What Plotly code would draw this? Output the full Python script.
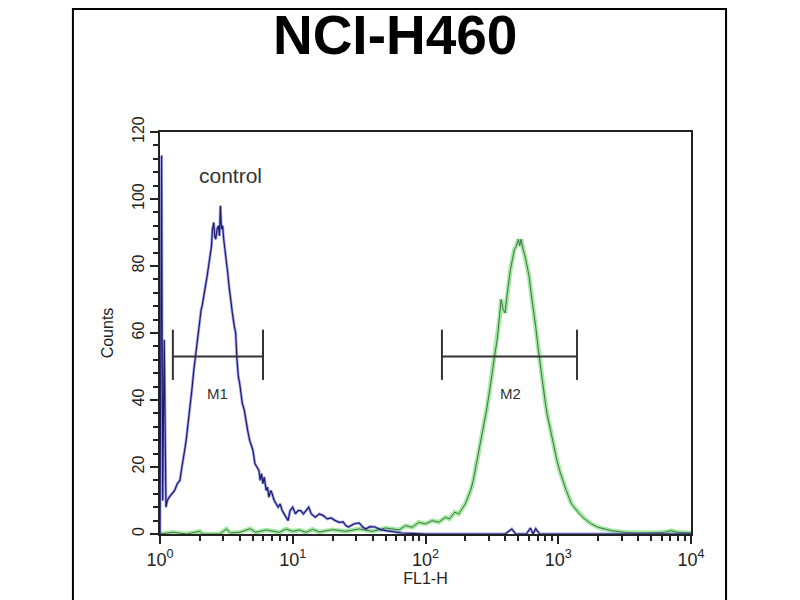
import math
import plotly.graph_objects as go

# control histogram (log10 FL1-H position, counts)
ctrl_log = [0.0, 0.012, 0.02, 0.032, 0.045, 0.055, 0.07, 0.09, 0.11, 0.13, 0.15, 0.165,
            0.18, 0.19, 0.2, 0.213, 0.225, 0.24, 0.255, 0.266, 0.278, 0.29, 0.3, 0.31,
            0.317, 0.33, 0.342, 0.355, 0.366, 0.378, 0.388, 0.395, 0.405, 0.412, 0.42,
            0.43, 0.44, 0.448, 0.455, 0.463, 0.472, 0.48, 0.49, 0.5, 0.51, 0.52, 0.53,
            0.545, 0.56, 0.57, 0.58, 0.59, 0.6, 0.61, 0.62, 0.635, 0.65, 0.66, 0.675,
            0.69, 0.7, 0.715, 0.73, 0.745, 0.755, 0.765, 0.775, 0.785, 0.8, 0.81, 0.82,
            0.835, 0.845, 0.86, 0.875, 0.89, 0.905, 0.92, 0.935, 0.95, 0.965, 0.98, 1.0,
            1.02, 1.04, 1.06, 1.08, 1.1, 1.12, 1.14, 1.17, 1.2, 1.23, 1.26, 1.29, 1.32,
            1.35, 1.38, 1.4, 1.42, 1.46, 1.5, 1.53, 1.55, 1.58, 1.62, 1.66, 1.7, 1.74,
            1.77, 1.82, 1.9, 2.0, 2.3, 2.6, 2.65, 2.68, 2.76, 2.79, 2.81, 2.83, 2.86,
            3.0, 4.0]
ctrl_counts = [0, 113, 10, 58, 8, 10, 11, 12, 13, 15, 16, 20,
               23, 26, 29, 33, 37, 43, 49, 53, 57, 61, 64, 67,
               68, 71, 73, 77, 80, 83, 86, 91, 93, 89, 88,
               91, 92, 89, 98, 91, 92, 88, 85, 82, 78, 74, 70,
               66, 62, 60, 52, 47, 45, 41, 39, 37, 33, 31, 28,
               26, 25, 21, 20, 19, 16, 18, 15, 17, 13, 14, 11,
               13, 12, 10, 9, 8, 9, 7, 6, 5, 4, 7, 8,
               6, 7, 7, 6, 7, 8, 6, 5, 6, 5.5, 4.5, 4.8, 4,
               3.5, 3.6, 2.5, 2.1, 3, 3.3, 2, 1.5, 2.2, 2.1, 1.3, 1, 0.8,
               0.6, 0.3, 0.2, 0, 0, 0, 1.5, 0, 0, 1.8, 0, 1.6, 0,
               0, 0]

# stained sample histogram
samp_log = [0.0, 0.1, 0.2, 0.3, 0.32, 0.45, 0.5, 0.53, 0.6, 0.68, 0.72, 0.8, 0.9,
            0.95, 1.0, 1.05, 1.1, 1.15, 1.2, 1.3, 1.4, 1.5, 1.6, 1.7, 1.8, 1.85,
            1.9, 1.95, 2.0, 2.05, 2.1, 2.15, 2.18, 2.22, 2.25, 2.28, 2.3, 2.32,
            2.34, 2.36, 2.38, 2.4, 2.42, 2.44, 2.46, 2.48, 2.5, 2.52, 2.54, 2.56,
            2.57, 2.585, 2.6, 2.61, 2.625, 2.64, 2.655, 2.67, 2.685, 2.7, 2.71,
            2.72, 2.735, 2.75, 2.765, 2.78, 2.795, 2.81, 2.83, 2.85, 2.865, 2.88,
            2.9, 2.915, 2.93, 2.95, 2.97, 2.99, 3.01, 3.04, 3.06, 3.08, 3.1, 3.12,
            3.14, 3.17, 3.2, 3.25, 3.3, 3.35, 3.4, 3.5, 3.6, 3.7, 3.8, 3.85, 3.9, 4.0]
samp_counts = [0, 0.5, 0, 0.8, 0, 0, 1.5, 0.3, 0.5, 1.6, 0.5, 1.2, 0.5,
               1.5, 0.8, 1.2, 0.5, 1.4, 0.6, 1.3, 0.8, 1.5, 0.8, 1.8, 1.2, 2.5,
               2, 3.5, 3, 4, 3.5, 5, 4.5, 6.5, 6, 8, 9, 11,
               13, 16, 20, 24, 28, 32, 37, 42, 48, 53, 58, 65,
               70, 67, 66, 70, 75, 79, 82, 85, 86, 88, 86,
               88, 85, 83, 80, 77, 72, 68, 62, 55, 50, 46,
               40, 36, 33, 30, 26, 22, 19, 15, 13, 11, 9, 8,
               7, 5.5, 4.5, 3, 2, 1.5, 1, 0.5, 0.3, 0.4, 0.5, 1, 0.5, 0.3]

# marker gates (FL1-H values)
gate_names = ["M1", "M2"]
gate_lo = [1.25, 133]
gate_hi = [5.97, 1385]
gate_y = [53, 53]
gate_label_x = [2.69, 434]
gate_label_y = [42, 42]

decades = [1, 10, 100, 1000, 10000]
decade_text = ["10<sup>0</sup>", "10<sup>1</sup>", "10<sup>2</sup>", "10<sup>3</sup>", "10<sup>4</sup>"]

FONT = "Liberation Sans, Arial, sans-serif"

fig = go.Figure()

ctrl_x = [10 ** v for v in ctrl_log]
samp_x = [10 ** v for v in samp_log]

fig.add_trace(go.Scatter(x=samp_x, y=samp_counts, mode="lines",
                         line=dict(color="rgba(120,228,120,0.7)", width=4.5), hoverinfo="skip"))
fig.add_trace(go.Scatter(x=samp_x, y=samp_counts, mode="lines",
                         line=dict(color="#4c6a4c", width=1)))
fig.add_trace(go.Scatter(x=ctrl_x, y=ctrl_counts, mode="lines",
                         line=dict(color="rgba(90,90,220,0.55)", width=2.8), hoverinfo="skip"))
fig.add_trace(go.Scatter(x=ctrl_x, y=ctrl_counts, mode="lines",
                         line=dict(color="#1c1c6c", width=1.2)))

for lo, hi, y in zip(gate_lo, gate_hi, gate_y):
    fig.add_trace(go.Scatter(x=[lo, hi], y=[y, y], mode="lines",
                             line=dict(color="#333333", width=2)))
    for xe in (lo, hi):
        fig.add_trace(go.Scatter(x=[xe, xe], y=[y - 7, y + 8], mode="lines",
                                 line=dict(color="#333333", width=2)))

# annotations on a log axis take log10 positions
for name, lx, ly in zip(gate_names, gate_label_x, gate_label_y):
    fig.add_annotation(x=math.log10(lx), y=ly, text=name, showarrow=False, xref="x", yref="y",
                       font=dict(family=FONT, size=15, color="#333333"))

fig.add_annotation(x=math.log10(3.37), y=107, text="control", showarrow=False, xref="x", yref="y",
                   font=dict(family=FONT, size=21, color="#333333"))

# outer frame of the picture
fig.add_shape(type="rect", xref="paper", yref="paper", x0=-0.164, x1=1.066, y0=-0.2, y1=1.306,
              line=dict(color="black", width=2))

fig.update_layout(
    width=800, height=600,
    margin=dict(l=152, r=117, t=124, b=74),
    paper_bgcolor="white", plot_bgcolor="white",
    showlegend=False,
    title=dict(text="<b>NCI-H460</b>", x=0.484, xanchor="center", y=0.955, yanchor="middle",
               font=dict(family=FONT, size=55, color="black")),
    font=dict(family=FONT, color="#222222"),
)

fig.update_xaxes(
    type="log", range=[0, 4],
    tickmode="array", tickvals=decades, ticktext=decade_text,
    ticks="outside", ticklen=8, tickwidth=2, tickcolor="#222222",
    minor=dict(ticks="outside", ticklen=5, tickwidth=1.5, tickcolor="#222222",
               tickvals=[m * d for d in decades[:-1] for m in range(2, 10)]),
    showline=True, linecolor="#222222", linewidth=2, mirror=True,
    showgrid=False, zeroline=False,
    tickfont=dict(family=FONT, size=18, color="#222222"),
    title=dict(text="FL1-H", font=dict(family=FONT, size=16, color="#222222"), standoff=2),
)
fig.update_yaxes(
    range=[0, 120], tickmode="linear", tick0=0, dtick=20,
    ticks="outside", ticklen=8, tickwidth=2, tickcolor="#222222",
    minor=dict(ticks="outside", ticklen=5, tickwidth=1.5, tickcolor="#222222", dtick=4),
    tickangle=-90,
    showline=True, linecolor="#222222", linewidth=2, mirror=True,
    showgrid=False, zeroline=False,
    tickfont=dict(family=FONT, size=16, color="#222222"),
    title=dict(text="Counts", font=dict(family=FONT, size=16, color="#222222"), standoff=12),
)

fig.write_html("out.html")
